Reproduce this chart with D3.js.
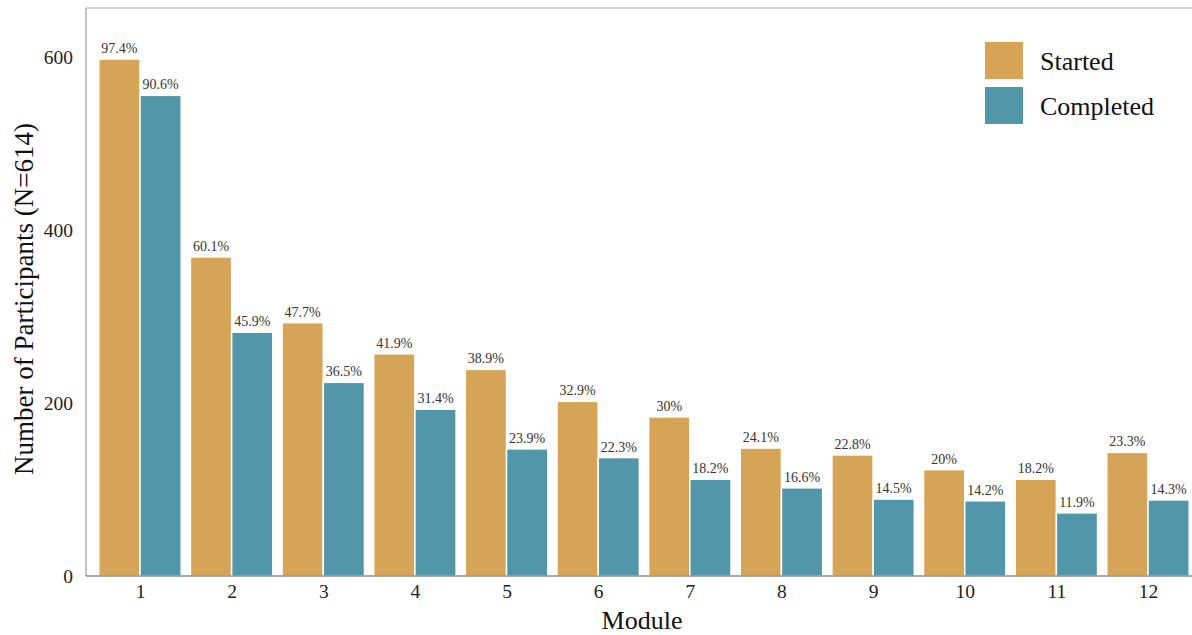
<!DOCTYPE html>
<html><head><meta charset="utf-8">
<script src="https://cdn.jsdelivr.net/npm/d3@7/dist/d3.min.js"></script>
<style>body{margin:0;background:#fff}svg{display:block}text{font-family:"Liberation Serif","Times New Roman",serif}</style>
</head><body><svg id="c" width="1192" height="635"></svg>
<script>
const modules = ["1","2","3","4","5","6","7","8","9","10","11","12"];
const series = ["Started","Completed"];
const startedPct = [97.4,60.1,47.7,41.9,38.9,32.9,30,24.1,22.8,20,18.2,23.3];
const completedPct = [90.6,45.9,36.5,31.4,23.9,22.3,18.2,16.6,14.5,14.2,11.9,14.3];
const startedN = [598,369,293,257,239,202,184,148,140,123,112,143];
const completedN = [556,282,224,193,147,137,112,102,89,87,73,88];
const yTicks = [0,200,400,600];
const colors = ["#D6A456","#5296A9"];

const svg = d3.select("#c");
const pL = 86, pB = 576, pT = 8, pR = 1192;
const y = d3.scaleLinear().domain([0,657]).range([pB, pT]);
const xc = d3.scalePoint().domain(modules).range([140,1148]);
const xs = d3.scaleBand().domain(series).range([-41.2,41.2]);

const data = [];
modules.forEach((m,i)=>{
  data.push({m, s:"Started", v:startedN[i], p:startedPct[i], c:colors[0]});
  data.push({m, s:"Completed", v:completedN[i], p:completedPct[i], c:colors[1]});
});

svg.append("g").selectAll("rect").data(data).join("rect")
  .attr("x", d=>xc(d.m)+xs(d.s))
  .attr("width", xs.bandwidth())
  .attr("y", d=>y(d.v))
  .attr("height", d=>y(0)-y(d.v))
  .attr("fill", d=>d.c)
  .attr("stroke","#fff").attr("stroke-width",1.5);

svg.append("g").selectAll("text").data(data).join("text")
  .attr("x", d=>xc(d.m)+xs(d.s)+xs.bandwidth()/2)
  .attr("y", d=>y(d.v)-6)
  .attr("text-anchor","middle")
  .attr("font-size",14).attr("fill","#333")
  .text(d=>d.p+"%");

// frame lines
svg.append("line").attr("x1",pL).attr("x2",pR).attr("y1",pT).attr("y2",pT).attr("stroke","#aaa").attr("stroke-width",1.2);
svg.append("line").attr("x1",pL).attr("x2",pL).attr("y1",pT).attr("y2",pB).attr("stroke","#999").attr("stroke-width",1.2);
svg.append("line").attr("x1",pL).attr("x2",pR).attr("y1",pB).attr("y2",pB).attr("stroke","#555").attr("stroke-width",1.2);

// y axis
const ya = svg.append("g").attr("transform",`translate(${pL},0)`)
  .call(d3.axisLeft(y).tickValues(yTicks).tickSize(0).tickPadding(13));
ya.select(".domain").remove();
ya.selectAll("text").attr("font-size",19.5).attr("fill","#222");

// x axis
const xa = svg.append("g").attr("transform",`translate(0,${pB})`)
  .call(d3.axisBottom(xc).tickSize(0).tickPadding(8));
xa.select(".domain").remove();
xa.selectAll("text").attr("font-size",19.5).attr("fill","#222");

svg.append("text").attr("x",642).attr("y",629).attr("text-anchor","middle")
  .attr("font-size",26).attr("fill","#111").text("Module");
svg.append("text").attr("transform","translate(33,299) rotate(-90)").attr("text-anchor","middle")
  .attr("font-size",27).attr("fill","#111").text("Number of Participants (N=614)");

// legend
const lg = svg.append("g").attr("transform","translate(985,42)");
series.forEach((s,i)=>{
  lg.append("rect").attr("x",0).attr("y",i*45).attr("width",38).attr("height",37).attr("fill",colors[i]);
  lg.append("text").attr("x",55).attr("y",i*45+28).attr("font-size",26).attr("fill","#111").text(s);
});
</script></body></html>
